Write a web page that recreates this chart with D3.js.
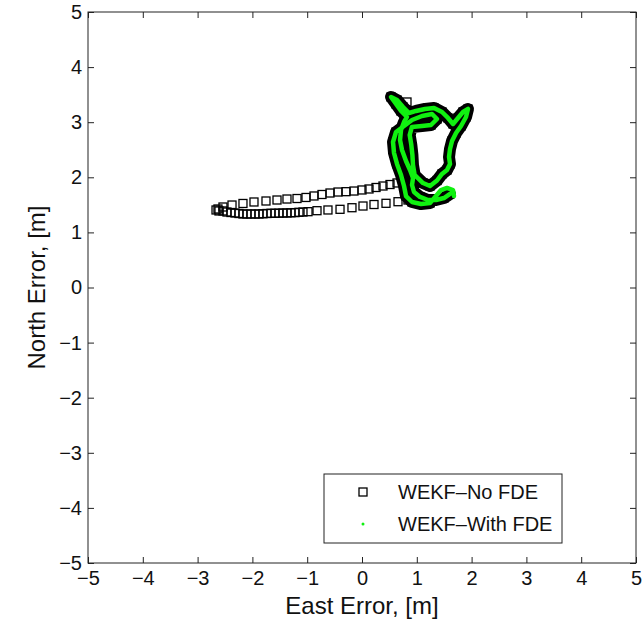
<!DOCTYPE html>
<html>
<head>
<meta charset="utf-8">
<script src="https://cdn.jsdelivr.net/npm/d3@7/dist/d3.min.js"></script>
<style>
  body { margin: 0; background: #fff; }
  text { font-family: "Liberation Sans", Arial, Helvetica, sans-serif; fill: #111; }
</style>
</head>
<body>
<div id="chart"></div>
<script>
// axis ticks, metres
const eastTicks = [-5, -4, -3, -2, -1, 0, 1, 2, 3, 4, 5]
const northTicks = [-5, -4, -3, -2, -1, 0, 1, 2, 3, 4, 5]

// track both filters share (no fault in this part), [east, north]
const sharedTrack = [
    [1.606, 1.697], [1.496, 1.624], [1.350, 1.588], [1.205, 1.588], [1.059, 1.643],
    [0.949, 1.733], [0.913, 1.860], [0.931, 1.987], [0.876, 2.133], [0.803, 2.296],
    [0.730, 2.496], [0.694, 2.677], [0.712, 2.859], [0.767, 3.004], [0.821, 3.095],
    [0.712, 3.204], [0.621, 3.331], [0.529, 3.458], [0.639, 3.403], [0.749, 3.276],
    [0.858, 3.167], [0.985, 3.204], [1.150, 3.240], [1.314, 3.258], [1.460, 3.185],
    [1.569, 3.077], [1.661, 2.968], [1.752, 3.077], [1.843, 3.185], [1.934, 3.240],
    [1.898, 3.095], [1.807, 2.931], [1.716, 2.804], [1.643, 2.659], [1.606, 2.514],
    [1.588, 2.369], [1.606, 2.242], [1.551, 2.133], [1.460, 2.060], [1.369, 1.942],
    [1.241, 1.842], [1.113, 1.896], [0.960, 2.042], [0.930, 2.224], [0.920, 2.405],
    [0.900, 2.587], [0.870, 2.768], [0.910, 2.913], [1.095, 2.931], [1.259, 2.949],
    [1.369, 3.058], [1.278, 3.149], [1.095, 3.113], [0.913, 3.040], [0.767, 2.931],
    [0.621, 2.822], [0.566, 2.641], [0.584, 2.441], [0.639, 2.242], [0.712, 2.042],
    [0.767, 1.842], [0.803, 1.660], [0.913, 1.552], [1.077, 1.515], [1.241, 1.533]
]

// with FDE only: last bit of the track
const fdeTail = [
    [1.350, 1.660], [1.442, 1.769], [1.551, 1.806], [1.661, 1.769], [1.679, 1.660]
]

// no FDE only: the excursion to the west while the fault is on
const faultExcursion = [
    [0.821, 3.367],
    [0.767, 1.915], [0.639, 1.897], [0.511, 1.869], [0.383, 1.842], [0.256, 1.815],
    [0.128, 1.788], [0.000, 1.770], [-0.146, 1.751], [-0.292, 1.739], [-0.438, 1.733],
    [-0.584, 1.715], [-0.730, 1.688], [-0.876, 1.661], [-1.022, 1.634], [-1.186, 1.615],
    [-1.369, 1.606], [-1.551, 1.588], [-1.752, 1.570], [-1.971, 1.552], [-2.172, 1.525],
    [-2.372, 1.497], [-2.537, 1.461], [-2.628, 1.425], [-2.664, 1.407], [-2.610, 1.389],
    [-2.537, 1.389], [-2.464, 1.370], [-2.391, 1.361], [-2.318, 1.352], [-2.245, 1.343],
    [-2.172, 1.334], [-2.099, 1.334], [-2.026, 1.334], [-1.953, 1.334], [-1.880, 1.334],
    [-1.807, 1.338], [-1.734, 1.343], [-1.661, 1.347], [-1.588, 1.347], [-1.515, 1.349],
    [-1.442, 1.352], [-1.369, 1.352], [-1.296, 1.356], [-1.223, 1.359], [-1.150, 1.365],
    [-1.077, 1.370], [-0.985, 1.376], [-0.821, 1.394], [-0.621, 1.407], [-0.401, 1.419],
    [-0.183, 1.448], [0.018, 1.479], [0.219, 1.506], [0.438, 1.528], [0.657, 1.557],
    [0.839, 1.588]
]

const legendLabels = ["WEKF\u2013No FDE", "WEKF\u2013With FDE"]

const noFde = sharedTrack.concat(faultExcursion)
const withFde = sharedTrack.concat(fdeTail)

const width = 644, height = 620
const plotL = 88, plotR = 636, plotT = 12, plotB = 563
const green = "#10f010"

const svg = d3.select("#chart").append("svg")
    .attr("width", width)
    .attr("height", height)

const x = d3.scaleLinear().domain([-5, 5]).range([plotL, plotR])
const y = d3.scaleLinear().domain([-5, 5]).range([plotB, plotT])

// frame
svg.append("rect")
    .attr("x", plotL).attr("y", plotT)
    .attr("width", plotR - plotL).attr("height", plotB - plotT)
    .attr("fill", "none").attr("stroke", "#222").attr("stroke-width", 1)

// axes, ticks pointing inwards like matlab
const styleAxis = g => {
    g.select(".domain").remove()
    g.selectAll(".tick line").attr("stroke", "#222")
    g.selectAll(".tick text").style("font-size", "20px").attr("fill", "#111")
}
const minus = d => d < 0 ? "\u2212" + Math.abs(d) : String(d)

svg.append("g")
    .attr("transform", `translate(0,${plotB})`)
    .call(d3.axisBottom(x).tickValues(eastTicks).tickSize(-6).tickPadding(8).tickFormat(minus))
    .call(styleAxis)

svg.append("g")
    .attr("transform", `translate(${plotL},0)`)
    .call(d3.axisLeft(y).tickValues(northTicks).tickSize(-6).tickPadding(6).tickFormat(minus))
    .call(styleAxis)

svg.append("g")
    .attr("transform", `translate(0,${plotT})`)
    .call(d3.axisTop(x).tickValues(eastTicks).tickSize(-6).tickFormat(""))
    .call(styleAxis)

svg.append("g")
    .attr("transform", `translate(${plotR},0)`)
    .call(d3.axisRight(y).tickValues(northTicks).tickSize(-6).tickFormat(""))
    .call(styleAxis)

svg.append("text")
    .attr("x", x(0)).attr("y", 614)
    .attr("text-anchor", "middle")
    .style("font-size", "24px")
    .text("East Error, [m]")

svg.append("text")
    .attr("transform", `translate(45,${y(0)}) rotate(-90)`)
    .attr("text-anchor", "middle")
    .style("font-size", "24px")
    .text("North Error, [m]")

const line = d3.line().x(d => x(d[0])).y(d => y(d[1]))

// the no-FDE squares pile up so thick along the shared track they read as a solid band
svg.append("path")
    .datum(sharedTrack)
    .attr("d", line)
    .attr("fill", "none")
    .attr("stroke", "#000")
    .attr("stroke-width", 12)
    .attr("stroke-linejoin", "round")
    .attr("stroke-linecap", "round")

const sq = 8
svg.append("g").selectAll("rect")
    .data(noFde)
    .enter().append("rect")
    .attr("x", d => x(d[0]) - sq / 2)
    .attr("y", d => y(d[1]) - sq / 2)
    .attr("width", sq).attr("height", sq)
    .attr("fill", "none")
    .attr("stroke", "#000")
    .attr("stroke-width", 1.3)

// with-FDE dots, dense enough to merge into a line
svg.append("path")
    .datum(withFde)
    .attr("d", line)
    .attr("fill", "none")
    .attr("stroke", green)
    .attr("stroke-width", 4.5)
    .attr("stroke-linejoin", "round")
    .attr("stroke-linecap", "round")

// legend
const lg = svg.append("g").attr("transform", "translate(324,474)")
lg.append("rect")
    .attr("width", 238).attr("height", 69)
    .attr("fill", "#fff").attr("stroke", "#222").attr("stroke-width", 1)

lg.append("rect")
    .attr("x", 35).attr("y", 14).attr("width", 8).attr("height", 8)
    .attr("fill", "none").attr("stroke", "#000").attr("stroke-width", 1.3)
lg.append("circle")
    .attr("cx", 39).attr("cy", 50).attr("r", 1.5)
    .attr("fill", green)

lg.selectAll(".lbl")
    .data(legendLabels)
    .enter().append("text")
    .attr("class", "lbl")
    .attr("x", 74)
    .attr("y", (d, i) => 25 + i * 32)
    .style("font-size", "20px")
    .text(d => d)
</script>
</body>
</html>
